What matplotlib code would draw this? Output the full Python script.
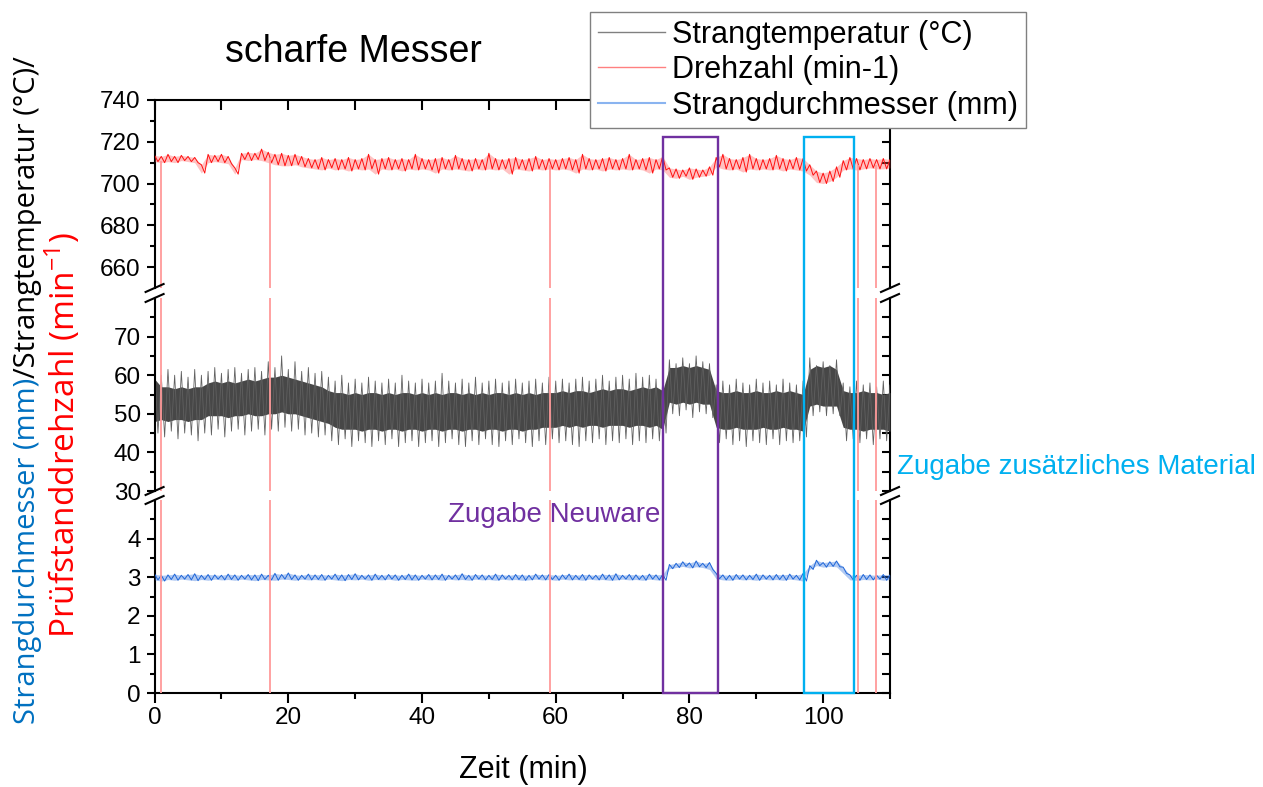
import numpy as np
import matplotlib.pyplot as plt
from matplotlib.lines import Line2D
from matplotlib.patches import Rectangle

plt.rcParams['font.family'] = ['Liberation Sans', 'DejaVu Sans']
plt.rcParams['mathtext.fontset'] = 'custom'
plt.rcParams['mathtext.rm'] = 'Open Sans'

# Zeitraster (min)
zeit = list(range(0, 111))

temp_kern_hi = [59, 57, 57, 56.5, 57, 56.5, 57, 57, 58, 58.5,
                58, 58.5, 58, 58.5, 59, 58.5, 59, 59.5, 59.5, 60,
                59.5, 59, 58.5, 58, 57.5, 57, 56, 55.5, 55.5, 55,
                55.5, 55, 55.5, 55.5, 55, 55.5, 55, 55.5, 55.5, 55,
                55.5, 55, 55.5, 55, 55.5, 55.5, 55, 55.5, 55, 55.5,
                55, 55.5, 55.5, 55, 55.5, 55, 55.5, 55, 55.5, 55.5,
                55.5, 56, 55.5, 56, 56, 55.5, 56, 56.5, 56, 56.5,
                56.5, 56, 56.5, 57, 56.5, 57, 56, 62, 62, 62.5,
                62, 62.5, 62, 61.5, 56, 55.5, 55.5, 56, 55.5, 55.5,
                56, 55.5, 55.5, 56, 55.5, 56, 55.5, 55, 61.5, 62.5,
                62, 62.5, 61.5, 56, 55.5, 55.5, 56, 55.5, 55.5, 55, 55.5]
temp_kern_lo = [48, 48.5, 48, 48.5, 48.5, 48, 48.5, 48.5, 49.5, 49.5,
                49.5, 49, 49.5, 49.5, 50, 49.5, 49.5, 50, 50, 50.5,
                50, 50, 49.5, 49, 48.5, 48, 47.5, 46.5, 46, 46,
                46, 45.5, 46, 46, 45.5, 46, 46, 45.5, 46, 46,
                45.5, 46, 46, 45.5, 46, 46, 45.5, 46, 46, 45.5,
                46, 46, 45.5, 46, 46, 45.5, 46, 46, 46.5, 46.5,
                46.5, 47, 46.5, 47, 46.5, 47, 47, 46.5, 47, 47,
                47, 46.5, 47, 47, 46.5, 47, 46, 53, 52.5, 53,
                52.5, 53, 52.5, 52.5, 46.5, 46, 46, 46.5, 46, 46,
                46, 46.5, 46, 46, 46.5, 46, 46, 45.5, 52, 52.5,
                52, 52, 52, 46.5, 46, 46, 45.5, 46, 46, 46, 45.5]
temp_spitze_hi = [63, 60, 61.5, 60, 61, 59.5, 61.5, 60, 61, 62,
                  60.5, 61.5, 62, 60.5, 61.5, 62, 61, 63.5, 62, 65,
                  61.5, 63.5, 61, 62, 60.5, 61, 59.5, 58.5, 60, 58,
                  59, 58, 59.5, 58.5, 58, 59, 58, 60, 58.5, 58,
                  59, 58, 58.5, 60.5, 58.5, 58, 59, 58, 59.5, 58,
                  58.5, 59, 58, 58.5, 59, 58, 58.5, 59, 58, 59.5,
                  58.5, 59, 58, 59, 59.5, 58.5, 59, 60, 58.5, 59.5,
                  60, 59, 60.5, 59.5, 60, 59, 58.5, 64, 63, 64.5,
                  63, 65, 63.5, 63, 57.5, 58.5, 57.5, 59, 58, 57.5,
                  59, 58, 58.5, 57.5, 59, 58, 57.5, 58.5, 64.5, 62.5,
                  63.5, 62.5, 64, 58, 57, 58.5, 57.5, 58, 57, 58.5, 57.5]
temp_spitze_lo = [45, 44, 45.5, 43.5, 45, 44.5, 43, 45, 44.5, 46,
                  44, 45.5, 46, 44.5, 45.5, 46, 44.5, 46, 45.5, 46.5,
                  45.5, 46, 44.5, 45, 44, 44.5, 43, 42, 43.5, 41.5,
                  43, 42.5, 41.5, 43, 42, 43.5, 41.5, 42.5, 43, 41.5,
                  42.5, 43, 41.5, 42.5, 43.5, 42, 41.5, 43, 42, 43.5,
                  42, 41.5, 43, 42, 43.5, 42.5, 41.5, 43, 42, 43.5,
                  42.5, 43, 42, 41.5, 43, 42.5, 43.5, 42, 43, 42.5,
                  43.5, 42, 43, 42.5, 43.5, 43, 45, 50, 49.5, 51,
                  49, 50.5, 50, 49, 42.5, 43.5, 42, 43, 41.5, 43,
                  42.5, 42, 43.5, 42, 43, 42.5, 43, 44, 49.5, 50.5,
                  49.5, 50, 49.5, 43, 43.5, 42.5, 43.5, 42, 43.5, 43, 42.5]

# Drehzahl (min-1)
dreh_hi = [713.5, 713, 714, 713, 713.5, 713, 712.5, 709, 714, 713.5,
           714, 713, 707.5, 714.5, 715, 714.5, 716.5, 715, 714, 714.5,
           713.5, 714, 713, 712, 711.5, 712.5, 711.5, 712, 711.5, 712.5,
           711.5, 712, 714, 711.5, 712, 712.5, 711.5, 712, 711.5, 714,
           712, 711.5, 712, 712.5, 711.5, 713.5, 712, 711.5, 712, 711.5,
           714.5, 712, 711.5, 712, 712.5, 711.5, 712, 713, 711.5, 712,
           711.5, 712, 712.5, 711.5, 714, 712, 711.5, 712, 712.5, 711.5,
           712, 714, 711.5, 712, 712.5, 711.5, 713, 707.5, 707, 706.5,
           707.5, 707, 706.5, 708, 712.5, 714, 712, 711.5, 712.5, 714,
           712, 711.5, 712, 713.5, 712, 711.5, 712.5, 712, 709, 706,
           705, 706, 708, 711, 712.5, 712, 711.5, 712, 711.5, 712, 711.5]
dreh_lo = [710.5, 710, 710.5, 710, 711, 710.5, 710, 705, 710, 710.5,
           710, 709.5, 704.5, 711.5, 711, 711.5, 711, 710, 709, 708.5,
           708.5, 709, 708, 707.5, 707, 706.5, 707.5, 706.5, 707, 706,
           707, 706.5, 707, 704.5, 707, 706.5, 707, 706, 707, 706.5,
           707, 706.5, 705, 707, 706.5, 707, 706.5, 706, 707, 706.5,
           707, 706.5, 707, 704.5, 707, 706.5, 706, 707, 706.5, 707,
           706.5, 707, 706.5, 705, 707, 706.5, 707, 706, 707, 706.5,
           707, 706.5, 707, 706.5, 705, 707, 706.5, 703, 702.5, 703.5,
           702, 703, 703.5, 704, 708, 707, 706.5, 707, 705.5, 707,
           706.5, 707, 706.5, 707, 706, 707, 706.5, 706, 704, 700.5,
           700, 701, 703, 706.5, 707, 706.5, 707, 707.5, 707, 707, 707.5]
# kurze Einbrüche der Drehzahl auf 0
drop_zeit = [1.0, 17.3, 59.1, 105.2, 107.9]
drop_oben = [711, 712, 709, 709, 709]

# Strangdurchmesser (mm)
durch_hi = [3.08, 3.05, 3.06, 3.08, 3.05, 3.07, 3.09, 3.05, 3.07, 3.06,
            3.05, 3.08, 3.06, 3.05, 3.07, 3.06, 3.08, 3.05, 3.10, 3.07,
            3.11, 3.06, 3.05, 3.08, 3.06, 3.07, 3.05, 3.08, 3.06, 3.07,
            3.09, 3.05, 3.06, 3.08, 3.05, 3.07, 3.06, 3.05, 3.08, 3.06,
            3.05, 3.07, 3.06, 3.08, 3.05, 3.06, 3.09, 3.05, 3.07, 3.06,
            3.05, 3.08, 3.06, 3.05, 3.07, 3.06, 3.05, 3.08, 3.06, 3.07,
            3.05, 3.06, 3.08, 3.05, 3.07, 3.06, 3.05, 3.08, 3.06, 3.09,
            3.05, 3.07, 3.06, 3.05, 3.08, 3.06, 3.07, 3.33, 3.36, 3.40,
            3.37, 3.42, 3.36, 3.38, 3.10, 3.06, 3.05, 3.07, 3.06, 3.05,
            3.08, 3.06, 3.05, 3.07, 3.06, 3.08, 3.05, 3.10, 3.30, 3.44,
            3.38, 3.40, 3.42, 3.26, 3.06, 3.05, 3.07, 3.06, 3.05, 3.07, 3.06]
durch_lo = [2.93, 2.90, 2.94, 2.92, 2.95, 2.93, 2.91, 2.94, 2.92, 2.95,
            2.93, 2.94, 2.92, 2.95, 2.93, 2.91, 2.94, 2.93, 2.92, 2.95,
            2.94, 2.92, 2.95, 2.93, 2.94, 2.92, 2.95, 2.93, 2.91, 2.94,
            2.93, 2.95, 2.92, 2.94, 2.93, 2.95, 2.92, 2.94, 2.93, 2.92,
            2.95, 2.93, 2.94, 2.92, 2.95, 2.93, 2.94, 2.92, 2.95, 2.93,
            2.94, 2.92, 2.95, 2.93, 2.94, 2.92, 2.93, 2.95, 2.93, 2.94,
            2.92, 2.95, 2.93, 2.94, 2.92, 2.95, 2.93, 2.94, 2.92, 2.93,
            2.95, 2.93, 2.94, 2.92, 2.95, 2.93, 2.92, 3.22, 3.25, 3.28,
            3.24, 3.27, 3.25, 3.20, 2.96, 2.93, 2.92, 2.95, 2.93, 2.94,
            2.92, 2.95, 2.93, 2.94, 2.92, 2.95, 2.93, 2.90, 3.20, 3.30,
            3.26, 3.28, 3.27, 3.10, 2.93, 2.92, 2.94, 2.93, 2.95, 2.92, 2.94]

# markierte Zeitbereiche
box_neuware = (76.1, 84.2)
box_material = (97.1, 104.6)
box_oben = 722.5

lila = '#7030A0'
cyan = '#00B0F0'


def zickzack(t, lo, hi):
    t = np.asarray(t, dtype=float)
    x = np.empty(2 * len(t))
    y = np.empty(2 * len(t))
    x[0::2] = t
    x[1::2] = t + 0.5
    y[0::2] = hi
    y[1::2] = lo
    return x, y


fig = plt.figure(figsize=(12.63, 7.87), dpi=100)
W, H = 1263, 787
x_l, x_r = 154.6, 890


def achse(oben, unten):
    return fig.add_axes([x_l / W, 1 - unten / H, (x_r - x_l) / W, (unten - oben) / H])


ax_top = achse(100, 288)
ax_mid = achse(298, 491)
ax_bot = achse(500, 693)
achsen = [ax_top, ax_mid, ax_bot]

ax_top.set_ylim(650, 740)
ax_mid.set_ylim(30, 80)
ax_bot.set_ylim(0, 5)

yticks = {ax_top: ([660, 680, 700, 720, 740], [670, 690, 710, 730]),
          ax_mid: ([30, 40, 50, 60, 70], [35, 45, 55, 65, 75]),
          ax_bot: ([0, 1, 2, 3, 4], [0.5, 1.5, 2.5, 3.5, 4.5])}

for ax in achsen:
    ax.patch.set_visible(False)
    ax.set_xlim(0, 110)
    # Strangtemperatur
    ax.fill_between(zeit, temp_kern_lo, temp_kern_hi, color='#474747', lw=0, zorder=2)
    ax.plot(*zickzack(zeit, temp_spitze_lo, temp_spitze_hi), color='#606060', lw=0.6, zorder=2)
    # Drehzahl
    ax.fill_between(zeit, dreh_lo, dreh_hi, color='#ff5050', lw=0, alpha=0.35, zorder=3)
    ax.plot(*zickzack(zeit, dreh_lo, dreh_hi), color='#ff1010', lw=0.7, zorder=3)
    # Strangdurchmesser
    ax.fill_between(zeit, durch_lo, durch_hi, color='#3a78e0', lw=0, alpha=0.4, zorder=3)
    ax.plot(*zickzack(zeit, durch_lo, durch_hi), color='#1f66d8', lw=0.7, zorder=3)
    ax.vlines(drop_zeit, 0, drop_oben, color='#ff9a9a', lw=1.3, zorder=4)

    major, minor = yticks[ax]
    ax.set_yticks(major)
    ax.set_yticks(minor, minor=True)
    ax.tick_params(axis='y', which='major', direction='out', length=6, width=1.5,
                   labelsize=17.5, pad=4)
    ax.tick_params(axis='y', which='minor', direction='out', length=3.5, width=1.5)
    for s in ax.spines.values():
        s.set_linewidth(1.5)
    ax.spines['right'].set_visible(False)

    sec = ax.secondary_yaxis('right')
    sec.set_yticks(major)
    sec.set_yticks(minor, minor=True)
    sec.tick_params(which='both', direction='in', length=5.5, width=1.5, labelright=False)
    sec.spines['right'].set_linewidth(1.5)

ax_top.spines['bottom'].set_visible(False)
ax_mid.spines['bottom'].set_visible(False)
ax_mid.spines['top'].set_visible(False)
ax_bot.spines['top'].set_visible(False)

xmaj = [0, 20, 40, 60, 80, 100]
xmin = [10, 30, 50, 70, 90, 110]
ax_top.set_xticks(xmaj)
ax_top.set_xticks(xmin, minor=True)
ax_top.tick_params(axis='x', which='both', bottom=False, top=True, labelbottom=False,
                   direction='in', length=7.5, width=1.5)
ax_mid.tick_params(axis='x', which='both', bottom=False, labelbottom=False)
ax_bot.set_xticks(xmaj)
ax_bot.set_xticks(xmin, minor=True)
ax_bot.tick_params(axis='x', which='major', direction='out', length=7, width=1.5,
                   labelsize=17.5, pad=3)
ax_bot.tick_params(axis='x', which='minor', direction='out', length=4, width=1.5)

# Achsenbrüche
for py in [288, 298, 491, 500]:
    for px in [x_l, x_r]:
        fig.add_artist(Line2D([(px - 9) / W, (px + 9) / W], [1 - (py + 4) / H, 1 - (py - 4) / H],
                              color='black', lw=1.5))

# Rahmen der Zugabebereiche über alle Segmente
inv = fig.transFigure.inverted()
for (x0, x1), farbe in [(box_neuware, lila), (box_material, cyan)]:
    p0 = inv.transform(ax_bot.transData.transform((x0, 0)))
    p1 = inv.transform(ax_top.transData.transform((x1, box_oben)))
    fig.add_artist(Rectangle(p0, p1[0] - p0[0], p1[1] - p0[1], fill=False,
                             edgecolor=farbe, lw=1.7, zorder=10))

fig.text(660 / W, 1 - 515 / H, 'Zugabe Neuware', color=lila, fontsize=20,
         ha='right', va='center')
fig.text(897 / W, 1 - 467 / H, 'Zugabe zusätzliches Material', color=cyan, fontsize=20,
         ha='left', va='center')
fig.text(353 / W, 1 - 52 / H, 'scharfe Messer', fontsize=27, ha='center', va='center')
fig.text(523 / W, 1 - 770 / H, 'Zeit (min)', fontsize=22, ha='center', va='center')

# y-Beschriftung, zweifarbig
yl_font = ['Open Sans', 'DejaVu Sans']
fig.text(35 / W, 1 - 378 / H, 'Strangdurchmesser (mm)', color='#0070C0', fontsize=21,
         family=yl_font, rotation=90, rotation_mode='anchor', ha='right', va='baseline')
fig.text(35 / W, 1 - 378 / H, '/Strangtemperatur (°C)/', color='black', fontsize=21,
         family=yl_font, rotation=90, rotation_mode='anchor', ha='left', va='baseline')
fig.text(75 / W, 1 - 435 / H, 'Prüfstanddrehzahl (min$^{-1}$)', color='#FF0000', fontsize=24,
         family=yl_font, rotation=90, rotation_mode='anchor', ha='center', va='baseline')

handles = [Line2D([], [], color='#808080', lw=1),
           Line2D([], [], color='#ff8080', lw=1),
           Line2D([], [], color='#8ab4f0', lw=1.5)]
labels = ['Strangtemperatur (°C)', 'Drehzahl (min-1)', 'Strangdurchmesser (mm)']
leg = fig.legend(handles, labels, loc='upper left', bbox_to_anchor=(590 / W, 1 - 12 / H),
                 borderaxespad=0, fontsize=22, handlelength=2.2, handletextpad=0.25,
                 labelspacing=0.18, borderpad=0.25, fancybox=False, framealpha=1,
                 edgecolor='#808080')
leg.get_frame().set_linewidth(1.0)
leg.set_zorder(20)

fig.savefig('out.png', dpi=100)
